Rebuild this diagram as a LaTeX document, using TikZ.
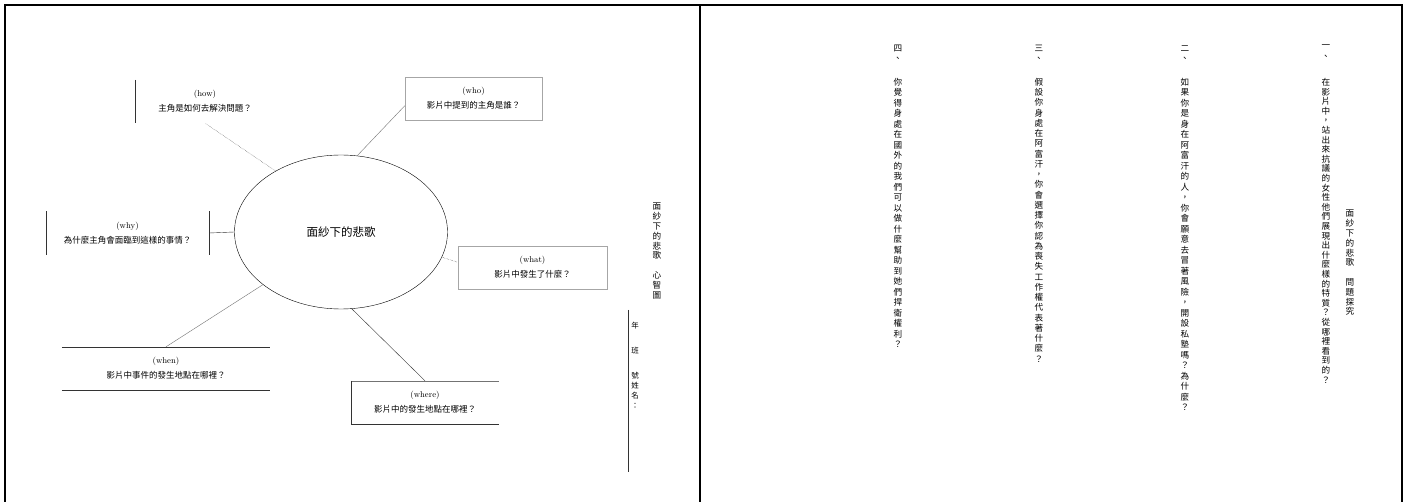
\documentclass[tikz,border=0pt]{standalone}
\usepackage{fontspec}
\newfontfamily\cjk{Noto Sans CJK TC}
\usetikzlibrary{shapes.geometric,positioning,calc}
\tikzset{FRAME/.style={line width=2.5pt}}
\tikzset{TOPIC/.style={ellipse,draw,thin,minimum width=213pt,minimum height=154pt,font=\cjk\fontsize{11.5}{14}\selectfont}}
\tikzset{QUESTION/.style={rectangle,minimum height=43pt,inner sep=0pt,align=flush center,font=\fontsize{8.5}{15}\selectfont}}
\tikzset{GRAYBOX/.style={QUESTION,draw=black!35}}
\tikzset{EDGE/.style={thin,black!80}}
\tikzset{LINK/.style={thin,black!55}}
\tikzset{VCOL/.style={align=center,inner sep=0pt,anchor=north,font=\cjk\fontsize{8.6}{#1}\selectfont},VCOL/.default=10.3}

% one character per line, for the upright columns
\ExplSyntaxOn
\seq_new:N \l_vcol_chars_seq
\NewDocumentCommand\vtext{m}
  {
    \seq_clear:N \l_vcol_chars_seq
    \tl_map_inline:nn {#1} { \seq_put_right:Nn \l_vcol_chars_seq {##1} }
    \seq_use:Nn \l_vcol_chars_seq { \\ }
  }
\ExplSyntaxOff

\begin{document}
\begin{tikzpicture}[x=1pt,y=-1pt]

\useasboundingbox[fill=white] (0,0) rectangle (1407,502);

\draw[FRAME] (5,502) -- (5,5) -- (1402,5) -- (1402,502);
\draw[FRAME] (700,5) -- (700,502);

% left page: mind map
\node[TOPIC] (n_topic) at (341,232) {面紗下的悲歌};

\node[GRAYBOX, minimum width=137pt] (n_who) at (473.5,98.5) {(who)\\{\cjk 影片中提到的主角是誰？}};
\node[QUESTION, minimum width=140pt] (n_how) at (205,101.5) {(how)\\{\cjk 主角是如何去解決問題？}};
\node[QUESTION, minimum width=163pt] (n_why) at (127.5,233) {(why)\\{\cjk 為什麼主角會面臨到這樣的事情？}};
\node[GRAYBOX, minimum width=149pt] (n_what) at (532.5,267.5) {(what)\\{\cjk 影片中發生了什麼？}};
\node[QUESTION, minimum width=208pt] (n_when) at (166,368.5) {(when)\\{\cjk 影片中事件的發生地點在哪裡？}};
\node[QUESTION, minimum width=148pt] (n_where) at (425,402.5) {(where)\\{\cjk 影片中的發生地點在哪裡？}};

\draw[EDGE] (n_how.north west) -- (n_how.south west);
\draw[EDGE] (n_why.north west) -- (n_why.south west);
\draw[EDGE] (n_why.north east) -- (n_why.south east);
\draw[EDGE] (n_when.north west) -- (n_when.north east);
\draw[EDGE] (n_when.south west) -- (n_when.south east);
\draw[LINK] (n_where.north west) -- (n_where.north east);
\draw[EDGE] (n_where.north west) -- (n_where.south west) -- (n_where.south east);

\draw[LINK] (n_topic.78) -- (n_who.186);
\draw[EDGE, densely dotted] (n_topic.137) -- (n_how.south);
\draw[EDGE] (n_why.east) -- (n_topic.west);
\draw[EDGE, densely dotted] (n_topic.-14) -- (n_what.176);
\draw[LINK] (n_topic.214) -- (n_when.north);
\draw[EDGE] (n_topic.-82) -- (n_where.north);

\node[VCOL=9.8] (n_map_title) at (657,203) {\vtext{面紗下的悲歌　心智圖}};

\coordinate (c_blank_top) at (628,310);
\coordinate (c_blank_end) at (628,472);
\draw[EDGE] (c_blank_top) -- (c_blank_end);
\node[VCOL, font=\cjk\fontsize{7.5}{10}\selectfont] (n_grade) at ($(c_blank_top)+(7,12)$) {年};
\node[VCOL, font=\cjk\fontsize{7.5}{10}\selectfont] (n_class) at ($(c_blank_top)+(7,37)$) {班};
\node[VCOL, font=\cjk\fontsize{7.5}{10}\selectfont] (n_name) at ($(c_blank_top)+(7,62)$) {\vtext{號姓名：}};

% right page: questions, read from right to left
\node[VCOL=9.8] (n_quiz_title) at (1350,210) {\vtext{面紗下的悲歌　問題探究}};

\node[VCOL] (n_q1_num) at (1326,45) {\vtext{一、}};
\node[VCOL=9.6] (n_q1) at (1326,78) {\vtext{在影片中，站出來抗議的女性他們展現出什麼樣的特質？從哪裡看到的？}};

\node[VCOL] (n_q2_num) at (1185,45) {\vtext{二、}};
\node[VCOL=10.5] (n_q2) at (1185,78) {\vtext{如果你是身在阿富汗的人，你會願意去冒著風險，開設私塾嗎？為什麼？}};

\node[VCOL] (n_q3_num) at (1039,45) {\vtext{三、}};
\node[VCOL=10.25] (n_q3) at (1039,78) {\vtext{假設你身處在阿富汗，你會選擇你認為喪失工作權代表著什麼？}};

\node[VCOL] (n_q4_num) at (898,45) {\vtext{四、}};
\node[VCOL=10.5] (n_q4) at (898,78) {\vtext{你覺得身處在國外的我們可以做什麼幫助到她們捍衛權利？}};

\end{tikzpicture}
\end{document}
